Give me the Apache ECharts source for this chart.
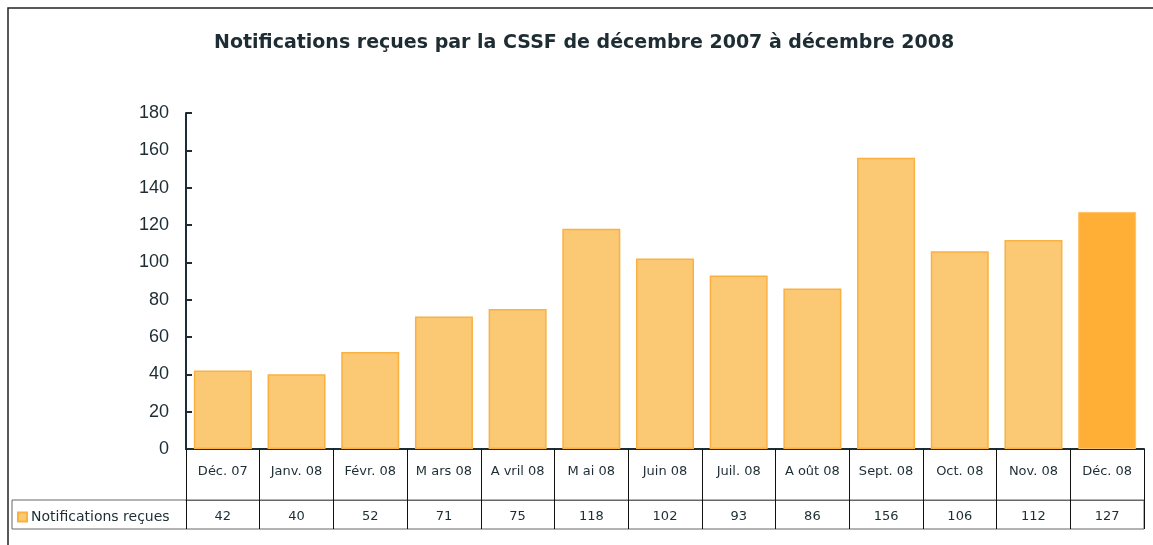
<!DOCTYPE html>
<html lang="fr">
<head>
    <meta charset="UTF-8">
    <title>Notifications CSSF</title>
    <script src="https://cdn.jsdelivr.net/npm/echarts@6/dist/echarts.min.js"></script>
    <style>
        html, body { margin: 0; padding: 0; background: #fff; }
        #main { width: 1153px; height: 545px; }
    </style>
</head>
<body>
<div id="main"></div>
<script type="text/javascript">
// donnees
var months = ['Déc. 07', 'Janv. 08', 'Févr. 08', 'M ars 08', 'A vril 08', 'M ai 08', 'Juin 08',
    'Juil. 08', 'A oût 08', 'Sept. 08', 'Oct. 08', 'Nov. 08', 'Déc. 08'];
var notifications = [42, 40, 52, 71, 75, 118, 102, 93, 86, 156, 106, 112, 127];
var yTicks = [0, 20, 40, 60, 80, 100, 120, 140, 160, 180];

var txt = '#1d2d33';
var font = '"Liberation Sans", Arial, sans-serif';
var wide = '"DejaVu Sans", sans-serif';

var barData = notifications.map(function (v, i) {
    if (i == notifications.length - 1) {
        return { value: v, itemStyle: { color: '#FFAE36', borderColor: '#FFC36A', borderWidth: 1 } };
    }
    return v;
});

var myChart = echarts.init(document.getElementById('main'));
var option = {
    animation: false,
    title: {
        text: 'Notifications reçues par la CSSF de décembre 2007 à décembre 2008',
        left: 209,
        top: 29,
        textStyle: { color: txt, fontSize: 19, fontWeight: 'bold', fontFamily: wide }
    },
    legend: {
        left: 17,
        top: 510,
        padding: 0,
        itemWidth: 9,
        itemHeight: 9,
        itemGap: 4,
        icon: 'rect',
        textStyle: { color: txt, fontSize: 14, fontFamily: wide, padding: [0, 0, 0, -1] },
        data: ['Notifications reçues']
    },
    grid: { left: 186, right: 9, top: 113, bottom: 96 },
    graphic: [
        { type: 'rect', shape: { x: 8, y: 8, width: 1160, height: 560 },
          style: { fill: 'none', stroke: '#222', lineWidth: 1.5 }, silent: true },
        { type: 'rect', shape: { x: 12, y: 500, width: 1132, height: 29 },
          style: { fill: 'none', stroke: '#666', lineWidth: 1 }, silent: true }
    ],
    xAxis: [{
        type: 'category',
        data: months,
        axisLine: { lineStyle: { color: txt, width: 2 } },
        axisTick: { show: true, interval: 0, length: 80, lineStyle: { color: '#111', width: 1 } },
        axisLabel: { interval: 0, margin: 16, color: txt, fontSize: 13, fontFamily: wide }
    }, {
        type: 'category',
        position: 'bottom',
        offset: 51,
        data: notifications.map(String),
        axisLine: { lineStyle: { color: '#666', width: 1 } },
        axisTick: { show: false },
        axisLabel: { interval: 0, margin: 10, color: txt, fontSize: 13, fontFamily: wide }
    }],
    yAxis: {
        type: 'value',
        min: yTicks[0],
        max: yTicks[yTicks.length - 1],
        interval: 20,
        splitLine: { show: false },
        axisLine: { show: true, lineStyle: { color: txt, width: 2 } },
        axisTick: { show: true, inside: true, length: 6, lineStyle: { color: txt, width: 2 } },
        axisLabel: { margin: 17, color: txt, fontSize: 18, fontFamily: font }
    },
    series: [{
        name: 'Notifications reçues',
        type: 'bar',
        xAxisIndex: 0,
        barWidth: 58,
        data: barData,
        itemStyle: { color: '#FBC874', borderColor: '#FBB040', borderWidth: 1.5 }
    }]
};
myChart.setOption(option);
</script>
</body>
</html>
